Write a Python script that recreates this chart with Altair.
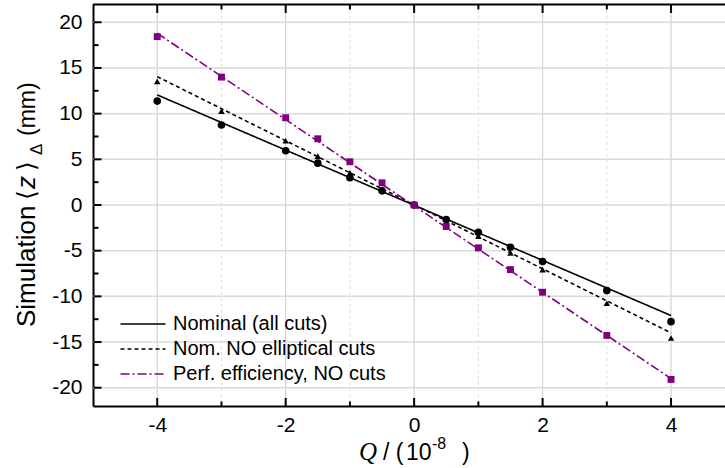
import altair as alt
import pandas as pd

# Asymmetry parameter Q (units of 1e-8) at which the simulation was run
q_points = [-4, -3, -2, -1.5, -1, -0.5, 0, 0.5, 1, 1.5, 2, 3, 4]

# Simulated <z>_Delta (mm) for each configuration
nominal = [11.37, 8.75, 5.94, 4.58, 2.98, 1.55, 0.0, -1.59, -2.98, -4.62, -6.19, -9.37, -12.77]
no_elliptical = [13.53, 10.28, 7.03, 5.35, 3.53, 1.75, 0.0, -1.85, -3.42, -5.24, -7.07, -10.76, -14.56]
perfect_eff = [18.43, 14.0, 9.55, 7.25, 4.73, 2.43, 0.0, -2.36, -4.69, -7.07, -9.55, -14.27, -19.09]

# Linear fits, evaluated at the ends of the Q range
fit_q = [-4, 4]
fit_nominal = [12.05, -12.1]
fit_no_elliptical = [14.05, -14.0]
fit_perfect_eff = [18.8, -19.0]

series_names = ["Nominal (all cuts)", "Nom. NO elliptical cuts", "Perf. efficiency, NO cuts"]
series_colors = ["#000000", "#000000", "#800080"]
series_dashes = [[1, 0], [4, 3], [9, 3, 2, 3]]
series_shapes = ["circle", "triangle-up", "square"]
series_sizes = [58, 42, 48]

# Axis ticks
x_major = [-4, -2, 0, 2, 4]
x_minor = [-3, -1, 1, 3]
y_major = [-20, -15, -10, -5, 0, 5, 10, 15, 20]
y_minor = [-17.5, -12.5, -7.5, -2.5, 2.5, 7.5, 12.5, 17.5]

W, H = 632, 402
FONT = "Liberation Sans"

points = pd.concat(
    [
        pd.DataFrame({"q": q_points, "z": vals, "series": name, "fill": col, "shape": shp, "size": sz})
        for name, vals, col, shp, sz in zip(
            series_names, [nominal, no_elliptical, perfect_eff], series_colors, series_shapes, series_sizes
        )
    ],
    ignore_index=True,
)
fits = pd.concat(
    [
        pd.DataFrame({"q": fit_q, "z": vals, "series": name})
        for name, vals in zip(series_names, [fit_nominal, fit_no_elliptical, fit_perfect_eff])
    ],
    ignore_index=True,
)

x_scale = alt.Scale(domain=[-5, 4.84], nice=False, zero=False)
y_scale = alt.Scale(domain=[-22, 22], nice=False, zero=False)

x_axis = alt.Axis(
    values=x_major,
    labelExpr="'' + datum.value",
    labelFont=FONT,
    labelFontSize=21,
    labelColor="black",
    labelPadding=8,
    ticks=False,
    tickSize=0,
    domainColor="black",
    domainWidth=2,
    grid=False,
    zindex=0,
)
y_axis = alt.Axis(
    values=y_major,
    labelExpr="'' + datum.value",
    labelFont=FONT,
    labelFontSize=21,
    labelColor="black",
    labelPadding=11,
    ticks=False,
    tickSize=0,
    domainColor="black",
    domainWidth=2,
    grid=False,
    zindex=0,
)

X = alt.X("q:Q", scale=x_scale, title=None, axis=x_axis)
Y = alt.Y("z:Q", scale=y_scale, title=None, axis=y_axis)

# Grid: solid at major ticks, dashed vertical lines at minor Q ticks
grid_x_major = alt.Chart(pd.DataFrame({"q": x_major})).mark_rule(color="#d4d4d4", strokeWidth=1.2).encode(x=X)
grid_x_minor = alt.Chart(pd.DataFrame({"q": x_minor})).mark_rule(
    color="#dcdcdc", strokeWidth=1, strokeDash=[3, 3]
).encode(x=X)
grid_y_major = alt.Chart(pd.DataFrame({"z": y_major})).mark_rule(color="#dadada", strokeWidth=1.5).encode(y=Y)

top_line = alt.Chart(alt.Data(values=[{}])).mark_rule(color="black", strokeWidth=2).encode(
    y=alt.value(0.5), x=alt.value(0), x2=alt.value(W)
)


# Inward-pointing ticks on the bottom, top and left edges
def x_ticks(vals, length, at_top):
    y0 = 0.5 if at_top else H
    y1 = length + 1 if at_top else H - length
    return alt.Chart(pd.DataFrame({"q": vals})).mark_rule(color="black", strokeWidth=2).encode(
        x=X, y=alt.value(y0), y2=alt.value(y1)
    )


def y_ticks(vals, length):
    return alt.Chart(pd.DataFrame({"z": vals})).mark_rule(color="black", strokeWidth=2).encode(
        y=Y, x=alt.value(0.5), x2=alt.value(length + 0.5)
    )


ticks = [
    x_ticks(x_major, 8, False),
    x_ticks(x_minor, 4.5, False),
    x_ticks(x_major, 8, True),
    x_ticks(x_minor, 4.5, True),
    y_ticks(y_major, 8),
    y_ticks(y_minor, 5),
]

fit_lines = alt.Chart(fits).mark_line(strokeWidth=1.6).encode(
    x=X,
    y=Y,
    detail="series:N",
    color=alt.Color(
        "series:N",
        scale=alt.Scale(domain=series_names, range=series_colors),
        legend=alt.Legend(title=None),
    ),
    strokeDash=alt.StrokeDash(
        "series:N",
        scale=alt.Scale(domain=series_names, range=series_dashes),
        legend=alt.Legend(title=None),
    ),
)

markers = alt.Chart(points).mark_point(filled=True, opacity=1).encode(
    x=X,
    y=Y,
    fill=alt.Fill("fill:N", scale=None),
    shape=alt.Shape("shape:N", scale=None),
    size=alt.Size("size:Q", scale=None),
)


def piece(text, x, y, size=24, angle=0, style="normal", font=FONT):
    return alt.Chart(alt.Data(values=[{}])).mark_text(
        text=text, x=x, y=y, fontSize=size, angle=angle, fontStyle=style, font=font,
        align="left", baseline="alphabetic", color="black",
    )


# Rotated y title: Simulation <z>_Delta (mm)
yx = 35 - 93
y_title = [
    piece("Simulation", yx, 327 - 4, size=26, angle=270),
    piece("\u27e8", yx, 200 - 4, size=25, angle=270),
    piece("z", yx, 189 - 4, size=26, angle=270, style="italic"),
    piece("\u27e9", yx, 171 - 4, size=25, angle=270),
    piece("\u0394", yx + 7, 155 - 4, size=17, angle=270),
    piece("(mm)", yx, 136 - 4, size=23, angle=270),
]

# x title: Q / ( 10^-8 )
x_title = [
    piece("Q", 359 - 93, 460 - 4, size=25, style="italic", font="Liberation Serif"),
    piece("/ (", 383 - 93, 460 - 4, size=23),
    piece("10", 406 - 93, 460 - 4, size=23),
    piece("-8", 432 - 93, 449 - 4, size=16),
    piece(")", 462 - 93, 460 - 4, size=23),
]

chart = (
    alt.layer(
        grid_x_major, grid_x_minor, grid_y_major,
        fit_lines, markers, *ticks, top_line, *y_title, *x_title,
    )
    .properties(
        width=W,
        height=H,
        autosize=alt.AutoSizeParams(type="none"),
        padding={"left": 93, "top": 4, "right": 0, "bottom": 62},
    )
    .configure_view(stroke=None)
    .configure_legend(
        orient="none",
        legendX=40,
        legendY=310,
        padding=0,
        # a long horizontal stroke drawn in a small symbol box keeps the rows compact
        symbolType="M-3,0L3,0",
        symbolSize=225,
        symbolStrokeWidth=1.6,
        symbolFillColor="transparent",
        labelFont=FONT,
        labelFontSize=20,
        labelColor="black",
        labelOffset=20,
        labelLimit=0,
        rowPadding=5,
    )
)

chart.save("out.html", embed_options={"renderer": "svg", "actions": False})
